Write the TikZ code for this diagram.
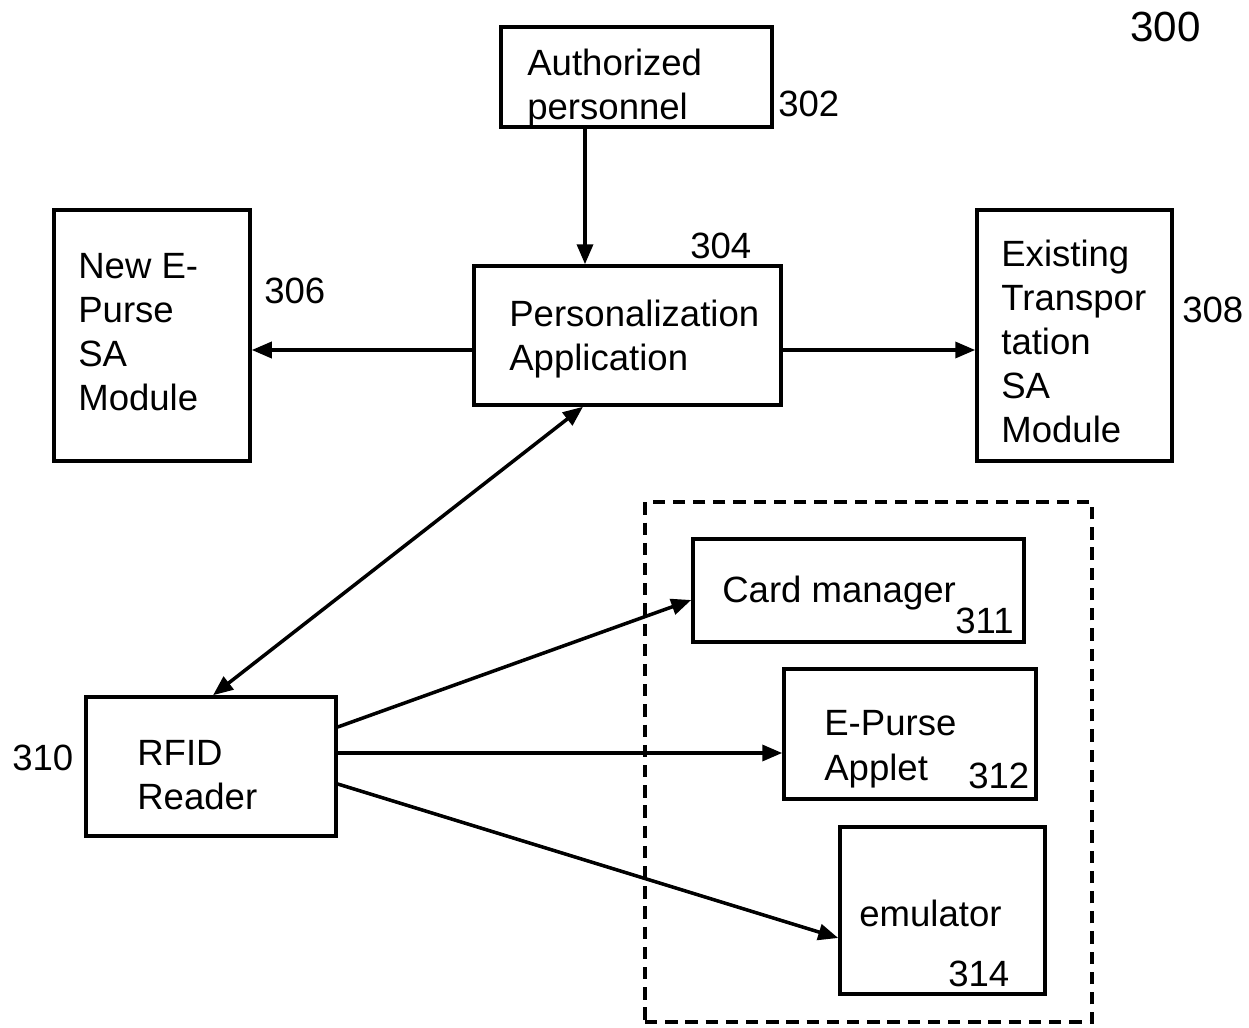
\documentclass[tikz,border=0pt]{standalone}
\usepackage{fontspec}
\setmainfont{Liberation Sans}
\usetikzlibrary{arrows.meta,calc,fit}
\begin{document}
\begin{tikzpicture}[x=0.02cm,y=-0.02cm,
  box/.style={draw, line width=2pt, inner sep=0pt},
  group/.style={draw, line width=2pt, inner sep=0pt, dash pattern=on 7pt off 4.5pt},
  txt/.style={anchor=base west, inner sep=0pt, font=\fontsize{20.8pt}{25pt}\selectfont},
  conn/.style={line width=2pt, -{Triangle[length=0.4cm,width=0.32cm]}},
  conn2/.style={line width=2pt, {Triangle[length=0.4cm,width=0.32cm]}-{Triangle[length=0.4cm,width=0.32cm]}}]
\useasboundingbox (0,0) rectangle (1249,1028);

% boxes
\node[box, fit={(501,27) (772,127)}] (n302) {};
\node[box, fit={(474,266) (781,405)}] (n304) {};
\node[box, fit={(54,210) (250,461)}] (n306) {};
\node[box, fit={(977,210) (1172,461)}] (n308) {};
\node[box, fit={(86,697) (336,836)}] (n310) {};
\node[box, fit={(693,539) (1024,642)}] (n311) {};
\node[box, fit={(784,669) (1036,799)}] (n312) {};
\node[box, fit={(840,827) (1045,994)}] (n314) {};
\node[group, fit={(645,502) (1092,1022)}] (card) {};

% texts
\node[txt, font=\fontsize{24pt}{28pt}\selectfont] (l300) at (1130,41) {300};

\node[txt] (t302a) at (527,75) {Authorized};
\node[txt] (t302b) at (527,119) {personnel};
\node[txt] (l302) at (778,116) {302};

\node[txt] (t304a) at (509,326) {Personalization};
\node[txt] (t304b) at (509,370) {Application};
\node[txt] (l304) at (690,258) {304};

\node[txt] (t306a) at (78,278) {New E-};
\node[txt] (t306b) at (78,322) {Purse};
\node[txt] (t306c) at (78,366) {SA};
\node[txt] (t306d) at (78,410) {Module};
\node[txt] (l306) at (264,303) {306};

\node[txt] (t308a) at (1001,266) {Existing};
\node[txt] (t308b) at (1001,310) {Transpor};
\node[txt] (t308c) at (1001,354) {tation};
\node[txt] (t308d) at (1001,398) {SA};
\node[txt] (t308e) at (1001,442) {Module};
\node[txt] (l308) at (1182,322) {308};

\node[txt] (t310a) at (137,765) {RFID};
\node[txt] (t310b) at (137,809) {Reader};
\node[txt] (l310) at (12,770) {310};

\node[txt] (t311) at (722,602) {Card manager};
\node[txt] (l311) at (955,633) {311};

\node[txt] (t312a) at (824,735) {E-Purse};
\node[txt] (t312b) at (824,780) {Applet};
\node[txt] (l312) at (968,788) {312};

\node[txt] (t314) at (859,926) {emulator};
\node[txt] (l314) at (948,986) {314};

% connectors
\draw[conn] ($(n302.south)+(-51.5,0)$) -- ($(n304.north)+(-42.5,0)$);
\draw[conn] ($(n304.west)+(0,14.5)$) -- ($(n306.east)+(0,14.5)$);
\draw[conn] ($(n304.east)+(0,14.5)$) -- ($(n308.west)+(0,14.5)$);
\draw[conn2] ($(n304.south)+(-44.5,0)$) -- ($(n310.north)+(2,0)$);
\draw[conn] ($(n310.east)+(0,-39.5)$) -- ($(n311.west)+(0,9.5)$);
\draw[conn] ($(n310.east)+(0,-13.5)$) -- ($(n312.west)+(0,19)$);
\draw[conn] ($(n310.east)+(0,17.5)$) -- ($(n314.west)+(0,27.5)$);
\end{tikzpicture}
\end{document}
